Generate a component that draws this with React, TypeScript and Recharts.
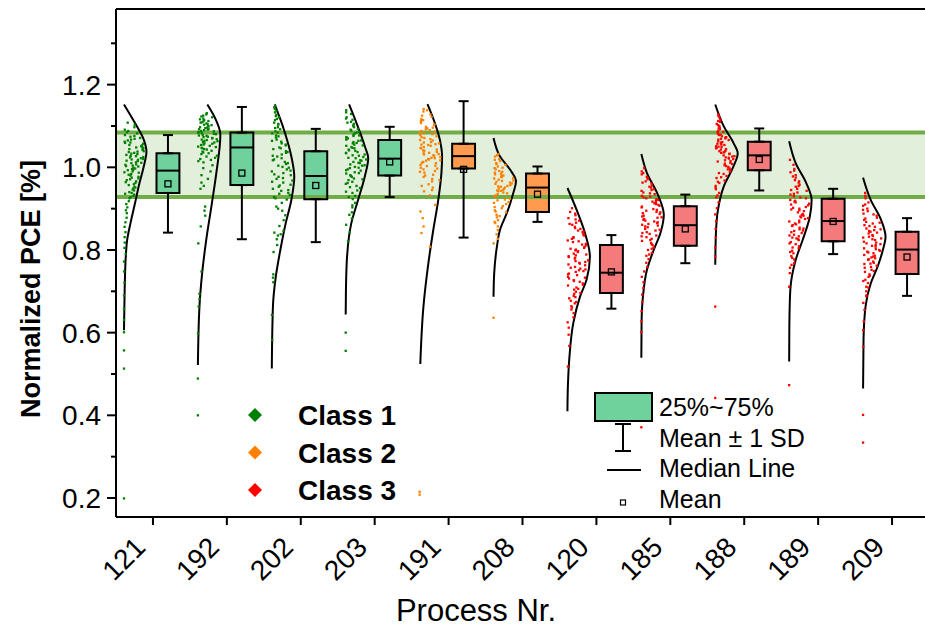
import {
  ComposedChart,
  XAxis,
  YAxis,
  Scatter,
  Line,
  Area,
  ErrorBar,
  ReferenceArea,
  ReferenceLine,
} from 'recharts';

// process numbers along the x axis and the class each one belongs to
const processes = ['121', '192', '202', '203', '191', '208', '120', '185', '188', '189', '209'];
const processClass = [0, 0, 0, 0, 1, 1, 2, 2, 2, 2, 2];
const classNames = ['Class 1', 'Class 2', 'Class 3'];
const pointColors = ['#008000', '#FF8000', '#FF0000'];
const boxColors = ['#6FD19B', '#FF9A4E', '#F47A7C'];

// box statistics per process
const q1 = [0.938, 0.957, 0.923, 0.98, 0.997, 0.892, 0.696, 0.81, 0.993, 0.821, 0.742];
const median = [0.992, 1.048, 0.979, 1.021, 1.027, 0.951, 0.745, 0.86, 1.029, 0.87, 0.801];
const q3 = [1.034, 1.084, 1.039, 1.066, 1.057, 0.985, 0.812, 0.906, 1.062, 0.924, 0.844];
const means = [0.96, 0.986, 0.956, 1.013, 0.995, 0.935, 0.747, 0.851, 1.019, 0.869, 0.783];
const sds = [0.118, 0.16, 0.137, 0.085, 0.165, 0.067, 0.089, 0.083, 0.075, 0.079, 0.094];

// normalized PCE samples per process
const s121 = [1.108, 1.097, 1.091, 1.085, 1.082, 1.078, 1.074, 1.071, 1.069, 1.065, 1.062, 1.059, 1.057, 1.054, 1.051, 1.049, 1.046, 1.044, 1.042, 1.039, 1.037, 1.035, 1.032, 1.03, 1.027, 1.025, 1.022, 1.02, 1.018, 1.015, 1.012, 1.01, 1.007, 1.004, 1.002, 0.999, 0.996, 0.993, 0.99, 0.987, 0.984, 0.98, 0.977, 0.973, 0.969, 0.966, 0.962, 0.957, 0.953, 0.949, 0.944, 0.94, 0.936, 0.931, 0.925, 0.918, 0.911, 0.903, 0.896, 0.889, 0.878, 0.867, 0.856, 0.843, 0.831, 0.818, 0.805, 0.79, 0.772, 0.748, 0.721, 0.69, 0.658, 0.631, 0.601, 0.557, 0.513, 0.199,
  1.103, 1.088, 1.076, 1.067, 1.06, 1.053, 1.048, 1.043, 1.038, 1.033, 1.028, 1.024, 1.019, 1.016, 1.011, 1.006, 1.003, 0.997, 0.994, 0.988, 0.982, 0.975, 0.971, 0.964, 0.959, 0.951, 0.946, 0.938, 0.934, 0.928];
const s192 = [1.131, 1.125, 1.121, 1.118, 1.114, 1.111, 1.108, 1.105, 1.102, 1.1, 1.097, 1.095, 1.092, 1.09, 1.088, 1.085, 1.083, 1.08, 1.078, 1.076, 1.073, 1.071, 1.068, 1.066, 1.063, 1.06, 1.058, 1.055, 1.052, 1.049, 1.046, 1.043, 1.04, 1.036, 1.032, 1.028, 1.023, 1.018, 1.012, 1.005, 0.998, 0.99, 0.981, 0.972, 0.963, 0.955, 0.948, 0.905, 0.895, 0.883, 0.857, 0.816, 0.748, 0.694, 0.681, 0.663, 0.598, 0.489, 0.4,
  1.128, 1.123, 1.116, 1.112, 1.109, 1.106, 1.103, 1.099, 1.096, 1.093, 1.091, 1.087, 1.084, 1.081, 1.077, 1.074, 1.07, 1.067, 1.064, 1.061, 1.057, 1.054, 1.05, 1.047, 1.044, 1.038, 1.034, 1.026, 1.02, 1.015];
const s202 = [1.148, 1.141, 1.133, 1.127, 1.121, 1.114, 1.108, 1.103, 1.097, 1.092, 1.087, 1.082, 1.077, 1.072, 1.067, 1.062, 1.058, 1.053, 1.048, 1.044, 1.039, 1.035, 1.031, 1.026, 1.022, 1.017, 1.013, 1.008, 1.004, 0.999, 0.995, 0.99, 0.986, 0.981, 0.977, 0.972, 0.968, 0.963, 0.958, 0.953, 0.948, 0.943, 0.938, 0.933, 0.928, 0.922, 0.914, 0.905, 0.895, 0.884, 0.872, 0.858, 0.846, 0.842, 0.838, 0.835, 0.826, 0.812, 0.795, 0.741, 0.733, 0.722, 0.643, 0.582,
  1.145, 1.136, 1.124, 1.117, 1.105, 1.095, 1.084, 1.075, 1.064, 1.055, 1.046, 1.037, 1.028, 1.019, 1.01, 1.001, 0.992, 0.983, 0.974, 0.965, 0.956, 0.945, 0.936, 0.925, 0.9];
const s203 = [1.138, 1.129, 1.121, 1.115, 1.11, 1.105, 1.101, 1.097, 1.093, 1.089, 1.086, 1.082, 1.079, 1.076, 1.073, 1.07, 1.067, 1.064, 1.061, 1.058, 1.055, 1.052, 1.049, 1.046, 1.043, 1.04, 1.037, 1.034, 1.031, 1.028, 1.025, 1.022, 1.019, 1.016, 1.013, 1.01, 1.007, 1.004, 1.001, 0.998, 0.995, 0.992, 0.988, 0.985, 0.981, 0.977, 0.973, 0.969, 0.965, 0.96, 0.955, 0.95, 0.944, 0.938, 0.931, 0.923, 0.914, 0.903, 0.891, 0.876, 0.861, 0.843, 0.821, 0.6, 0.556,
  1.133, 1.118, 1.108, 1.099, 1.091, 1.084, 1.077, 1.071, 1.065, 1.059, 1.053, 1.047, 1.041, 1.035, 1.029, 1.023, 1.017, 1.011, 1.005, 0.999, 0.993, 0.986, 0.979, 0.971, 0.962, 0.952, 0.941, 0.928, 0.908, 0.885];
const s191 = [1.141, 1.135, 1.128, 1.122, 1.117, 1.112, 1.107, 1.102, 1.098, 1.094, 1.09, 1.086, 1.082, 1.078, 1.075, 1.071, 1.068, 1.065, 1.061, 1.058, 1.055, 1.052, 1.049, 1.046, 1.043, 1.04, 1.037, 1.034, 1.031, 1.028, 1.025, 1.022, 1.019, 1.016, 1.013, 1.01, 1.006, 1.003, 0.999, 0.995, 0.991, 0.987, 0.982, 0.977, 0.972, 0.966, 0.959, 0.951, 0.942, 0.932, 0.909, 0.893, 0.877, 0.857, 0.841, 0.808, 0.215, 0.208,
  1.138, 1.125, 1.114, 1.104, 1.096, 1.088, 1.08, 1.073, 1.066, 1.06, 1.054, 1.047, 1.041, 1.035, 1.029, 1.023, 1.017, 1.011, 1.004, 0.997, 0.989, 0.98, 0.969, 0.955, 0.945, 1.092, 1.084, 1.056, 1.032, 1.02];
const s208 = [1.032, 1.026, 1.02, 1.015, 1.01, 1.006, 1.002, 0.998, 0.995, 0.991, 0.987, 0.983, 0.98, 0.976, 0.973, 0.97, 0.967, 0.963, 0.96, 0.957, 0.954, 0.951, 0.948, 0.945, 0.942, 0.939, 0.935, 0.932, 0.928, 0.924, 0.92, 0.916, 0.911, 0.906, 0.901, 0.896, 0.891, 0.885, 0.879, 0.872, 0.865, 0.857, 0.848, 0.838, 0.827, 0.816, 0.636,
  1.029, 1.018, 1.008, 0.999, 0.989, 0.981, 0.974, 0.968, 0.961, 0.955, 0.949, 0.943, 0.937, 0.93, 0.922, 0.914, 0.904, 0.893, 0.882, 0.868, 0.953, 0.965, 0.977, 0.985, 0.944];
const s120 = [0.901, 0.892, 0.884, 0.877, 0.871, 0.866, 0.861, 0.856, 0.851, 0.847, 0.843, 0.839, 0.835, 0.831, 0.827, 0.823, 0.819, 0.815, 0.811, 0.807, 0.803, 0.799, 0.795, 0.791, 0.787, 0.783, 0.779, 0.775, 0.771, 0.767, 0.763, 0.759, 0.755, 0.751, 0.747, 0.743, 0.739, 0.735, 0.731, 0.727, 0.723, 0.719, 0.714, 0.709, 0.704, 0.699, 0.694, 0.689, 0.683, 0.677, 0.671, 0.664, 0.656, 0.647, 0.637, 0.625, 0.612, 0.595, 0.568, 0.518,
  0.888, 0.874, 0.863, 0.853, 0.845, 0.837, 0.829, 0.821, 0.813, 0.805, 0.797, 0.789, 0.781, 0.773, 0.765, 0.757, 0.749, 0.741, 0.733, 0.725, 0.716, 0.706, 0.696, 0.686, 0.674, 0.661, 0.801, 0.785, 0.769, 0.753];
const s185 = [0.998, 0.99, 0.983, 0.977, 0.971, 0.966, 0.961, 0.956, 0.951, 0.947, 0.943, 0.939, 0.935, 0.931, 0.927, 0.923, 0.919, 0.915, 0.911, 0.907, 0.903, 0.899, 0.895, 0.891, 0.887, 0.883, 0.879, 0.875, 0.871, 0.867, 0.863, 0.859, 0.855, 0.851, 0.847, 0.843, 0.839, 0.835, 0.831, 0.827, 0.822, 0.817, 0.812, 0.806, 0.8, 0.793, 0.786, 0.778, 0.769, 0.759, 0.748, 0.735, 0.722, 0.708, 0.692, 0.674, 0.652, 0.627, 0.601, 0.371,
  0.986, 0.974, 0.963, 0.953, 0.945, 0.937, 0.929, 0.921, 0.913, 0.905, 0.897, 0.889, 0.881, 0.873, 0.865, 0.857, 0.849, 0.841, 0.833, 0.824, 0.814, 0.803, 0.789, 0.892, 0.878, 0.869, 0.861, 0.909, 0.917, 0.925];
const s188 = [1.128, 1.121, 1.115, 1.11, 1.105, 1.1, 1.096, 1.092, 1.088, 1.085, 1.081, 1.078, 1.075, 1.072, 1.069, 1.066, 1.063, 1.06, 1.057, 1.054, 1.051, 1.049, 1.046, 1.043, 1.04, 1.037, 1.035, 1.032, 1.029, 1.026, 1.023, 1.02, 1.017, 1.014, 1.011, 1.008, 1.005, 1.001, 0.997, 0.993, 0.989, 0.984, 0.979, 0.974, 0.968, 0.962, 0.955, 0.947, 0.938, 0.927, 0.915, 0.901, 0.886, 0.87, 0.851, 0.83, 0.806, 0.784, 0.663, 0.442,
  1.124, 1.112, 1.102, 1.094, 1.086, 1.079, 1.073, 1.067, 1.061, 1.055, 1.05, 1.044, 1.039, 1.033, 1.027, 1.021, 1.015, 1.009, 1.003, 0.995, 0.986, 0.976, 0.965, 0.951, 1.07, 1.058, 1.047, 1.036, 1.024, 0.932];
const s189 = [1.018, 1.006, 0.996, 0.988, 0.981, 0.975, 0.969, 0.963, 0.958, 0.953, 0.948, 0.943, 0.939, 0.934, 0.93, 0.925, 0.921, 0.917, 0.912, 0.908, 0.904, 0.9, 0.896, 0.891, 0.887, 0.883, 0.879, 0.875, 0.871, 0.867, 0.862, 0.858, 0.854, 0.85, 0.846, 0.841, 0.837, 0.833, 0.828, 0.824, 0.819, 0.814, 0.809, 0.804, 0.798, 0.792, 0.785, 0.777, 0.768, 0.757, 0.744, 0.711, 0.473,
  0.992, 0.978, 0.966, 0.955, 0.945, 0.936, 0.927, 0.919, 0.91, 0.902, 0.894, 0.885, 0.877, 0.869, 0.86, 0.852, 0.843, 0.835, 0.826, 0.816, 0.806, 0.795, 0.781, 0.764, 0.915, 0.898, 0.881, 0.864, 0.847, 0.83];
const s209 = [0.938, 0.925, 0.915, 0.907, 0.9, 0.894, 0.888, 0.883, 0.878, 0.873, 0.868, 0.864, 0.86, 0.856, 0.852, 0.848, 0.844, 0.84, 0.836, 0.832, 0.828, 0.824, 0.82, 0.816, 0.812, 0.808, 0.804, 0.8, 0.796, 0.792, 0.788, 0.784, 0.78, 0.776, 0.772, 0.767, 0.762, 0.757, 0.752, 0.747, 0.741, 0.735, 0.728, 0.72, 0.711, 0.7, 0.688, 0.672, 0.655, 0.627, 0.606, 0.566, 0.401, 0.334,
  0.931, 0.91, 0.897, 0.886, 0.876, 0.866, 0.858, 0.85, 0.842, 0.834, 0.826, 0.818, 0.81, 0.802, 0.794, 0.786, 0.778, 0.769, 0.759, 0.749, 0.738, 0.725, 0.709, 0.69, 0.846, 0.83, 0.814, 0.798, 0.782, 0.766];
const samples = [s121, s192, s202, s203, s191, s208, s120, s185, s188, s189, s209];

// distribution curves: [PCE, relative density] knots
const c121 = [[1.152, 0], [1.107, 0.49], [1.067, 0.88], [1.038, 1], [1.002, 0.88], [0.962, 0.69], [0.913, 0.49], [0.865, 0.29], [0.824, 0.14], [0.784, 0.08], [0.703, 0.03], [0.606, 0]];
const c192 = [[1.152, 0.42], [1.115, 0.8], [1.079, 1], [0.986, 0.82], [0.905, 0.6], [0.824, 0.37], [0.744, 0.19], [0.663, 0.07], [0.522, 0]];
const c202 = [[1.152, 0.13], [1.091, 0.54], [1.026, 0.87], [0.978, 1], [0.921, 0.87], [0.865, 0.62], [0.8, 0.38], [0.736, 0.18], [0.663, 0.05], [0.513, 0]];
const c203 = [[1.152, 0.15], [1.107, 0.48], [1.051, 0.85], [1.022, 1], [0.978, 0.85], [0.921, 0.55], [0.865, 0.25], [0.784, 0.06], [0.703, 0.01], [0.644, 0]];
const c191 = [[1.153, 0.35], [1.107, 0.68], [1.067, 0.9], [1.026, 1], [0.986, 0.97], [0.921, 0.83], [0.849, 0.61], [0.768, 0.39], [0.663, 0.17], [0.524, 0.03]];
const c208 = [[1.071, 0], [1.026, 0.29], [0.994, 0.74], [0.966, 1], [0.938, 0.88], [0.889, 0.59], [0.849, 0.29], [0.808, 0.15], [0.744, 0.03], [0.687, 0]];
const c120 = [[0.95, 0], [0.897, 0.41], [0.841, 0.78], [0.784, 1], [0.728, 0.85], [0.687, 0.56], [0.623, 0.26], [0.542, 0.09], [0.47, 0.02], [0.41, 0]];
const c185 = [[1.032, 0], [0.986, 0.25], [0.938, 0.7], [0.885, 1], [0.841, 0.85], [0.8, 0.55], [0.752, 0.25], [0.687, 0.07], [0.623, 0.01], [0.539, 0]];
const c188 = [[1.152, 0], [1.099, 0.38], [1.059, 0.81], [1.034, 1], [1.002, 0.81], [0.954, 0.38], [0.897, 0.12], [0.841, 0.03], [0.764, 0]];
const c189 = [[1.063, 0], [1.01, 0.29], [0.962, 0.76], [0.921, 1], [0.881, 0.92], [0.824, 0.6], [0.776, 0.29], [0.703, 0.05], [0.623, 0.01], [0.53, 0]];
const c209 = [[0.975, 0], [0.921, 0.34], [0.873, 0.8], [0.832, 1], [0.8, 0.88], [0.76, 0.65], [0.719, 0.34], [0.663, 0.11], [0.582, 0.02], [0.465, 0]];
const curves = [c121, c192, c202, c203, c191, c208, c120, c185, c188, c189, c209];

const yTicks = [0.2, 0.3, 0.4, 0.5, 0.6, 0.7, 0.8, 0.9, 1.0, 1.1, 1.2, 1.3];
const bandLow = 0.928;
const bandHigh = 1.084;
const statLabels = ['25%~75%', 'Mean \u00B1 1 SD', 'Median Line', 'Mean'];

// layout inside each category slot (slot width = 1)
const CURVE_OFFSET = -0.392;
const CURVE_WIDTH = 0.304;
const BOX_OFFSET = 0.203;
const BOX_HALF = 0.155;
const FONT = '"Liberation Sans", Arial, sans-serif';

function densityAt(knots: number[][], v: number) {
  for (let k = 0; k < knots.length - 1; k++) {
    const [va, da] = knots[k];
    const [vb, db] = knots[k + 1];
    if (v <= va && v >= vb) return da + ((db - da) * (va - v)) / (va - vb);
  }
  return 0;
}

// horizontal jitter (hash of the point index), scaled by the curve width
function jitter(k: number, i: number) {
  let h = Math.imul(k + 1 + i * 131, 0x9e3779b1);
  h ^= h >>> 15;
  h = Math.imul(h, 0x85ebca77);
  h ^= h >>> 13;
  return ((h >>> 0) / 4294967296) * 0.95;
}

const pointSeries = samples.map((vals, i) =>
  vals.map((v, k) => ({
    x: i + 0.5 + CURVE_OFFSET + jitter(k, i) * densityAt(curves[i], v) * CURVE_WIDTH,
    y: v,
  })),
);

const curveSeries = curves.map((knots, i) =>
  knots.map(([v, d]) => ({ x: i + 0.5 + CURVE_OFFSET + d * CURVE_WIDTH, y: v })),
);

const boxRows = processes.map((p, i) => ({
  name: p,
  x: i + 0.5 + BOX_OFFSET,
  q1: q1[i],
  q3: q3[i],
  median: median[i],
  mean: means[i],
  upper: [0, means[i] + sds[i] - q3[i]],
  lower: [q1[i] - (means[i] - sds[i]), 0],
}));

const boxFills = boxRows.map((r) => [
  { x: r.x - BOX_HALF, iqr: [r.q1, r.q3] },
  { x: r.x + BOX_HALF, iqr: [r.q1, r.q3] },
]);

const boxOutlines = boxRows.map((r) => [
  { x: r.x - BOX_HALF, y: r.q1 },
  { x: r.x - BOX_HALF, y: r.q3 },
  { x: r.x + BOX_HALF, y: r.q3 },
  { x: r.x + BOX_HALF, y: r.q1 },
  { x: r.x - BOX_HALF, y: r.q1 },
]);

const YTick = (props: any) => {
  const { x, y, payload } = props;
  const major = Math.round(payload.value * 10) % 2 === 0;
  return (
    <g>
      <line x1={x - (major ? 9 : 5)} x2={x} y1={y} y2={y} stroke="#000" strokeWidth={2} />
      {major && (
        <text x={x - 15} y={y} dy="0.36em" textAnchor="end" fontSize={28} fontFamily={FONT} fill="#000">
          {payload.value.toFixed(1)}
        </text>
      )}
    </g>
  );
};

const XTick = (props: any) => {
  const { x, y, payload } = props;
  const tx = x - 6;
  const ty = y + 32;
  return (
    <g>
      <line x1={x} x2={x} y1={y} y2={y + 8} stroke="#000" strokeWidth={2} />
      <text
        x={tx}
        y={ty}
        textAnchor="end"
        transform={`rotate(-45, ${tx}, ${ty})`}
        fontSize={28}
        fontFamily={FONT}
        fill="#000"
      >
        {processes[Math.round(payload.value - 0.5)]}
      </text>
    </g>
  );
};

const Dot = (color: string) => (props: any) =>
  <rect x={props.cx - 1.15} y={props.cy - 1.15} width={2.3} height={2.3} fill={color} />;

const MedianMark = (props: any) => (
  <line x1={props.cx - 11.5} x2={props.cx + 11.5} y1={props.cy} y2={props.cy} stroke="#000" strokeWidth={2} />
);

const MeanMark = (props: any) => (
  <rect x={props.cx - 3} y={props.cy - 3} width={6} height={6} fill="none" stroke="#000" strokeWidth={1.3} />
);

const Nothing = () => <g />;

function Legends() {
  return (
    <svg
      width={925}
      height={627}
      style={{ position: 'absolute', left: 0, top: 0, pointerEvents: 'none' }}
      fontFamily={FONT}
    >
      <text transform="translate(40, 289) rotate(-90)" textAnchor="middle" fontSize={27} fontWeight="bold">
        Normalized PCE [%]
      </text>
      <text x={476} y={621} textAnchor="middle" fontSize={31}>
        Process Nr.
      </text>

      {classNames.map((c, i) => (
        <g key={c}>
          <polygon
            points={`255,${415 + i * 37.5 - 7} 262,${415 + i * 37.5} 255,${415 + i * 37.5 + 7} 248,${415 + i * 37.5}`}
            fill={pointColors[i]}
          />
          <text x={298} y={425 + i * 37.5} fontSize={28} fontWeight="bold">
            {c}
          </text>
        </g>
      ))}

      <rect x={595} y={393} width={57} height={28} fill={boxColors[0]} stroke="#000" strokeWidth={2} />
      <line x1={623} x2={623} y1={424} y2={451} stroke="#000" strokeWidth={2} />
      <line x1={615} x2={631} y1={424} y2={424} stroke="#000" strokeWidth={2} />
      <line x1={615} x2={631} y1={451} y2={451} stroke="#000" strokeWidth={2} />
      <line x1={607} x2={641} y1={470} y2={470} stroke="#000" strokeWidth={2} />
      <rect x={620.5} y={500} width={5} height={5} fill="none" stroke="#000" strokeWidth={1.2} />
      {statLabels.map((s, i) => (
        <text key={s} x={659} y={416 + i * 30.5} fontSize={25}>
          {s}
        </text>
      ))}
    </svg>
  );
}

export default function App() {
  return (
    <div style={{ position: 'absolute', left: 0, top: 0, width: 925, height: 627, overflow: 'hidden', background: '#fff' }}>
      <ComposedChart width={935} height={627} margin={{ top: 8, right: 6, bottom: 0, left: 0 }}>
        <XAxis
          dataKey="x"
          type="number"
          domain={[0, 11]}
          allowDataOverflow
          ticks={processes.map((_, i) => i + 0.5)}
          interval={0}
          tickSize={0}
          tickMargin={0}
          tickLine={false}
          tick={<XTick />}
          axisLine={{ stroke: '#000', strokeWidth: 2 }}
          height={110}
        />
        <XAxis
          xAxisId="top"
          orientation="top"
          type="number"
          domain={[0, 11]}
          allowDataOverflow
          tick={false}
          tickLine={false}
          axisLine={{ stroke: '#000', strokeWidth: 2 }}
          height={1}
        />
        <YAxis
          type="number"
          domain={[0.154, 1.383]}
          allowDataOverflow
          ticks={yTicks}
          interval={0}
          tickSize={0}
          tickMargin={0}
          tickLine={false}
          tick={<YTick />}
          axisLine={{ stroke: '#000', strokeWidth: 2 }}
          width={116}
        />

        <ReferenceArea y1={bandLow} y2={bandHigh} fill="#70AD47" fillOpacity={0.2} stroke="none" />
        <ReferenceLine y={bandLow} stroke="#70AD47" strokeWidth={4} />
        <ReferenceLine y={bandHigh} stroke="#70AD47" strokeWidth={4} />

        {pointSeries.map((pts, i) => (
          <Scatter
            key={`pts-${processes[i]}`}
            data={pts}
            dataKey="y"
            shape={Dot(pointColors[processClass[i]])}
            isAnimationActive={false}
          />
        ))}

        {curveSeries.map((pts, i) => (
          <Line
            key={`curve-${processes[i]}`}
            data={pts}
            dataKey="y"
            type="monotoneY"
            stroke="#000"
            strokeWidth={2}
            dot={false}
            activeDot={false}
            isAnimationActive={false}
          />
        ))}

        <Scatter data={boxRows} dataKey="q3" shape={Nothing} isAnimationActive={false}>
          <ErrorBar dataKey="upper" direction="y" width={5} stroke="#000" strokeWidth={2} />
        </Scatter>
        <Scatter data={boxRows} dataKey="q1" shape={Nothing} isAnimationActive={false}>
          <ErrorBar dataKey="lower" direction="y" width={5} stroke="#000" strokeWidth={2} />
        </Scatter>

        {boxFills.map((pts, i) => (
          <Area
            key={`fill-${processes[i]}`}
            data={pts}
            dataKey="iqr"
            type="linear"
            fill={boxColors[processClass[i]]}
            fillOpacity={1}
            stroke="none"
            dot={false}
            activeDot={false}
            isAnimationActive={false}
          />
        ))}
        {boxOutlines.map((pts, i) => (
          <Line
            key={`box-${processes[i]}`}
            data={pts}
            dataKey="y"
            type="linear"
            stroke="#000"
            strokeWidth={2}
            strokeLinecap="square"
            dot={false}
            activeDot={false}
            isAnimationActive={false}
          />
        ))}

        <Scatter data={boxRows} dataKey="median" shape={MedianMark} isAnimationActive={false} />
        <Scatter data={boxRows} dataKey="mean" shape={MeanMark} isAnimationActive={false} />
      </ComposedChart>
      <Legends />
    </div>
  );
}
